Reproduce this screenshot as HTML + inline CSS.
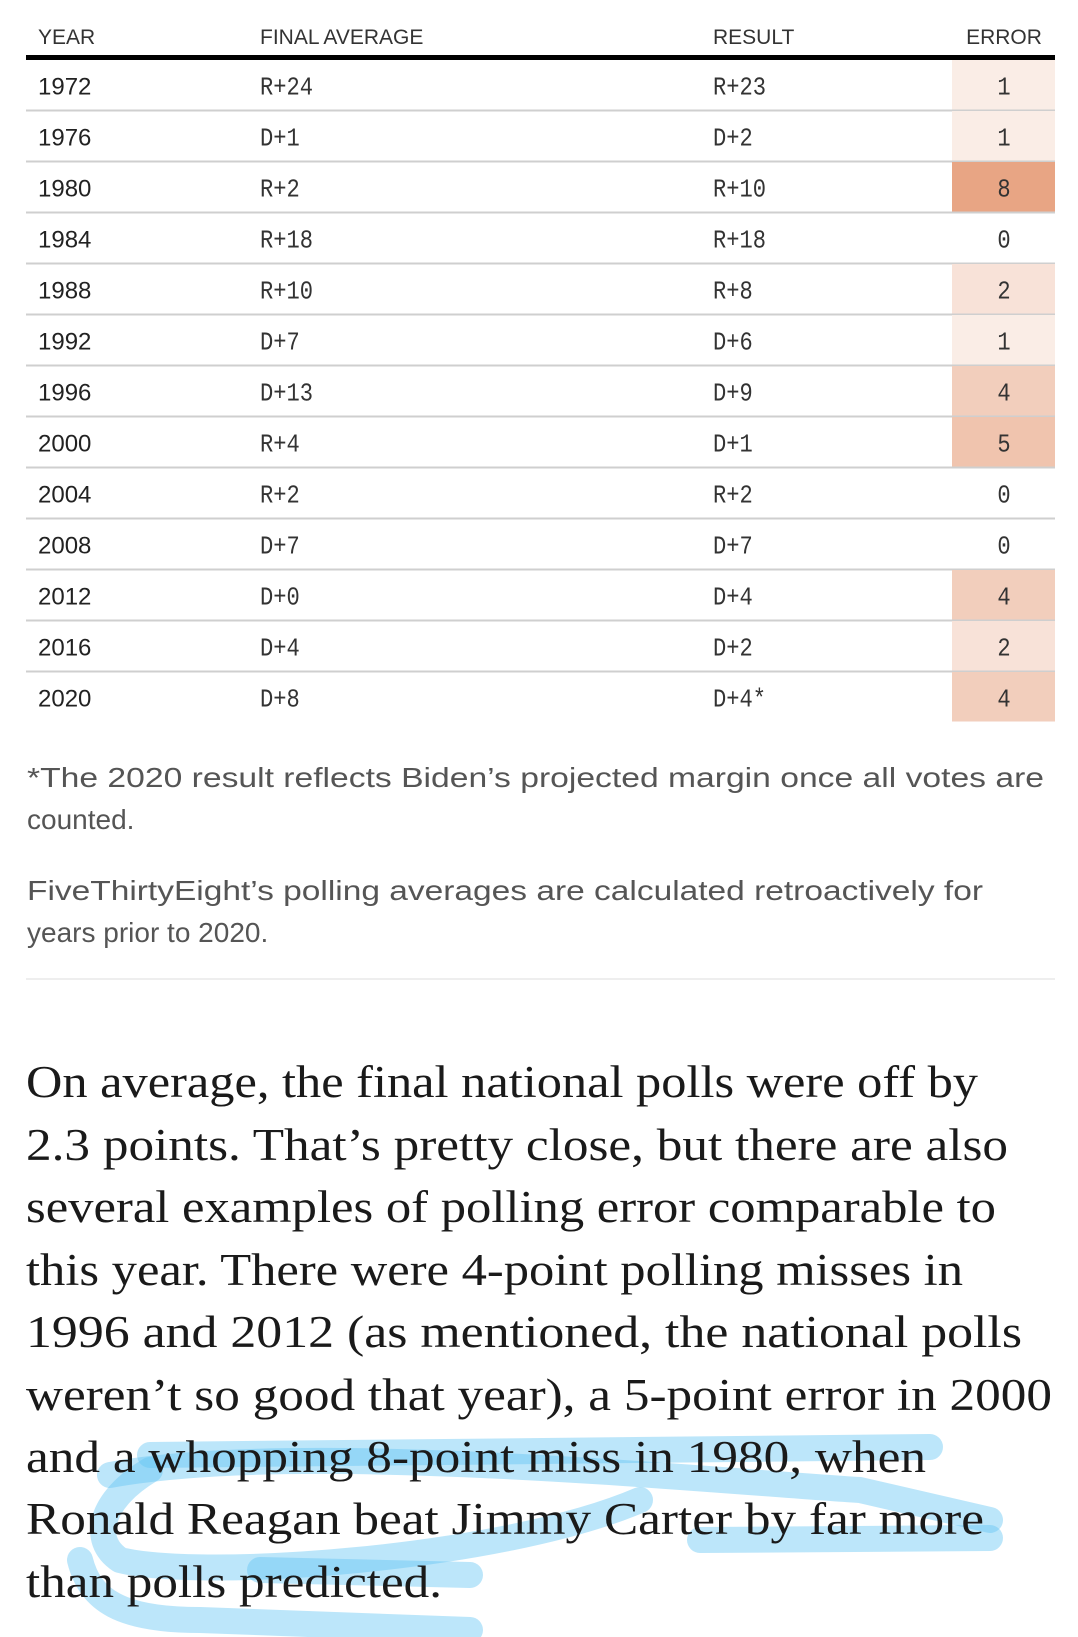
<!DOCTYPE html>
<html><head><meta charset="utf-8">
<style>
html,body{margin:0;padding:0;background:#fff;}
svg{display:block;}
</style></head>
<body>
<svg id="chart" width="1078" height="1637" viewBox="0 0 1078 1637" xmlns="http://www.w3.org/2000/svg">
  <g font-family="Liberation Sans, sans-serif" font-size="21" fill="#333">
    <text x="38" y="44">YEAR</text>
    <text x="260" y="44">FINAL AVERAGE</text>
    <text x="713" y="44">RESULT</text>
    <text x="1004" y="44" text-anchor="middle">ERROR</text>
  </g>
  <rect x="26" y="55" width="1029" height="5" fill="#000"/>
  <g id="rows"></g>

  <g font-family="Liberation Sans, sans-serif" font-size="28" fill="#555">
    <text x="27" y="787" textLength="1017" lengthAdjust="spacingAndGlyphs">*The 2020 result reflects Biden’s projected margin once all votes are</text>
    <text x="27" y="829">counted.</text>
    <text x="27" y="900" textLength="956" lengthAdjust="spacingAndGlyphs">FiveThirtyEight’s polling averages are calculated retroactively for</text>
    <text x="27" y="942">years prior to 2020.</text>
  </g>
  <rect x="26" y="978" width="1029" height="2" fill="#eee"/>

  <g fill="none" stroke="#5fc4f2" stroke-opacity="0.42" stroke-linecap="round" stroke-linejoin="round" stroke-width="26">
    <path d="M150,1455 L930,1447" />
    <path d="M110,1475 C300,1440 700,1480 860,1490 L990,1520" />
    <path d="M150,1470 C100,1500 90,1540 120,1560 C200,1580 500,1560 640,1500" />
    <path d="M80,1560 C90,1600 120,1620 200,1620 L470,1630" />
    <path d="M260,1570 L470,1575" />
    <path d="M700,1540 L990,1538" />
  </g>

  <g font-family="Liberation Serif, serif" font-size="45" fill="#1a1a1a">
    <text x="26" y="1097" textLength="952" lengthAdjust="spacingAndGlyphs">On average, the final national polls were off by</text>
    <text x="26" y="1160" textLength="982" lengthAdjust="spacingAndGlyphs">2.3 points. That’s pretty close, but there are also</text>
    <text x="26" y="1222" textLength="970" lengthAdjust="spacingAndGlyphs">several examples of polling error comparable to</text>
    <text x="26" y="1285" textLength="937" lengthAdjust="spacingAndGlyphs">this year. There were 4-point polling misses in</text>
    <text x="26" y="1347" textLength="996" lengthAdjust="spacingAndGlyphs">1996 and 2012 (as mentioned, the national polls</text>
    <text x="26" y="1410" textLength="1026" lengthAdjust="spacingAndGlyphs">weren’t so good that year), a 5-point error in 2000</text>
    <text x="26" y="1472" textLength="900" lengthAdjust="spacingAndGlyphs">and a whopping 8-point miss in 1980, when</text>
    <text x="26" y="1534" textLength="958" lengthAdjust="spacingAndGlyphs">Ronald Reagan beat Jimmy Carter by far more</text>
    <text x="26" y="1597" textLength="416" lengthAdjust="spacingAndGlyphs">than polls predicted.</text>
  </g>
</svg>
<script>
const years = ["1972","1976","1980","1984","1988","1992","1996","2000","2004","2008","2012","2016","2020"];
const finalAverage = ["R+24","D+1","R+2","R+18","R+10","D+7","D+13","R+4","R+2","D+7","D+0","D+4","D+8"];
const results = ["R+23","D+2","R+10","R+18","R+8","D+6","D+9","D+1","R+2","D+7","D+4","D+2","D+4*"];
const errors = [1,1,8,0,2,1,4,5,0,0,4,2,4];

const NS = "http://www.w3.org/2000/svg";
const rowsG = document.getElementById("rows");
const top0 = 60, rowH = 51;
function rowY(i){ return top0 + i*rowH; }
function errColor(e){
  const t = Math.min(e/8,1);
  const c0=[255,255,255], c1=[232,165,132];
  if(e===0) return "none";
  const a = 0.09 + 0.91*t;
  const c = c0.map((v,k)=>Math.round(v+(c1[k]-v)*a));
  return "rgb("+c.join(",")+")";
}
function mk(tag, attrs){ const el=document.createElementNS(NS,tag); for(const k in attrs) el.setAttribute(k,attrs[k]); return el; }
function monoText(x, y, str, anchor){
  // condensed mono: tall glyphs squeezed horizontally
  const t = mk("text",{x:0,y:0,"font-family":"Liberation Mono, monospace","font-size":26,fill:"#333","text-anchor":anchor||"start",transform:"translate("+x+","+y+") scale(0.85,1)"});
  t.textContent = str;
  return t;
}

years.forEach((yr,i)=>{
  const y = rowY(i);
  const g = mk("g",{});
  
  
  const cell = mk("rect",{x:952,y:y,width:103,height:rowH-1.5,fill:errColor(errors[i])});
  
  
  g.appendChild(cell);
  const cy = y + rowH/2 + 9;
  const t1 = mk("text",{x:38,y:cy,"font-family":"Liberation Sans, sans-serif","font-size":24,fill:"#222"});
  t1.textContent = yr;
  
  
  g.appendChild(t1);
  const t2 = monoText(260, cy, finalAverage[i]);
  
  
  g.appendChild(t2);
  const t3 = monoText(713, cy, results[i]);
  
  
  g.appendChild(t3);
  const t4 = monoText(1004, cy, String(errors[i]), "middle");
  
  
  g.appendChild(t4);
  if(i < years.length-1){
    const ln = mk("rect",{x:26,y:y+rowH-1.5,width:1029,height:2,fill:"#cfcfcf"});
    
    
    g.appendChild(ln);
  }
  rowsG.appendChild(g);
});
</script>
</body></html>
